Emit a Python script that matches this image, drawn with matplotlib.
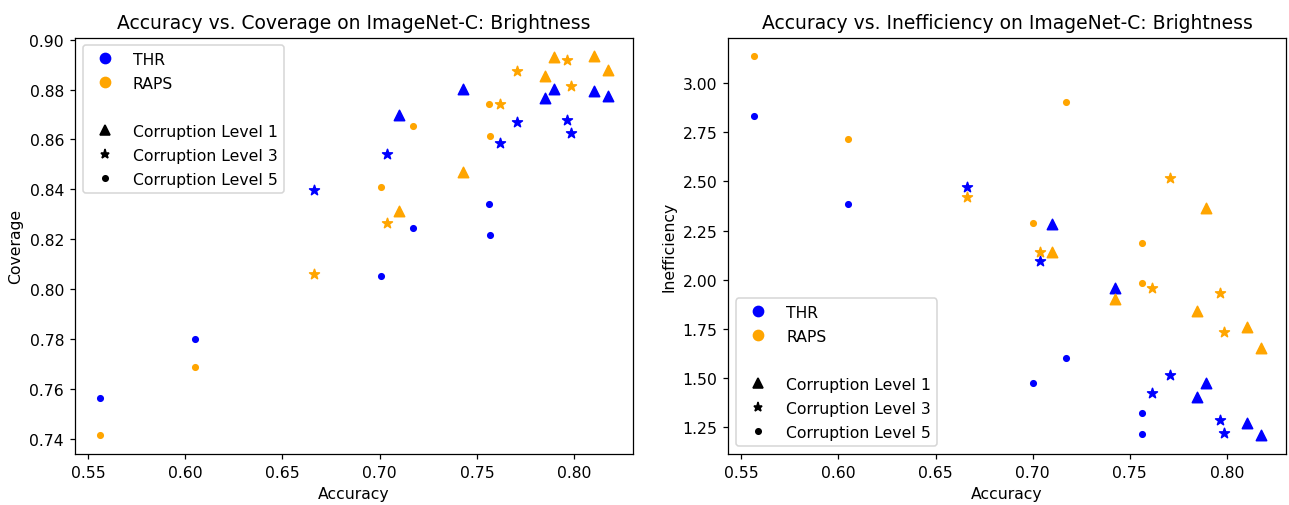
import matplotlib
matplotlib.use("Agg")
import matplotlib.pyplot as plt
from matplotlib.lines import Line2D

# Accuracy per corruption level (shared by THR and RAPS)
acc_l1 = [0.7101, 0.7426, 0.7847, 0.7894, 0.8103, 0.8173]
acc_l3 = [0.6662, 0.7036, 0.7616, 0.7704, 0.7963, 0.7983]
acc_l5 = [0.5564, 0.6051, 0.7004, 0.7172, 0.7560, 0.7565]

# Coverage
thr_cov_l1 = [0.8700, 0.8801, 0.8768, 0.8802, 0.8794, 0.8776]
raps_cov_l1 = [0.8315, 0.8469, 0.8856, 0.8929, 0.8933, 0.8879]
thr_cov_l3 = [0.8399, 0.8540, 0.8586, 0.8671, 0.8677, 0.8628]
raps_cov_l3 = [0.8061, 0.8264, 0.8741, 0.8873, 0.8917, 0.8815]
thr_cov_l5 = [0.7563, 0.7801, 0.8052, 0.8245, 0.8342, 0.8218]
raps_cov_l5 = [0.7415, 0.7687, 0.8409, 0.8653, 0.8741, 0.8615]

# Inefficiency
thr_ineff_l1 = [2.281, 1.956, 1.406, 1.475, 1.274, 1.211]
raps_ineff_l1 = [2.139, 1.902, 1.841, 2.366, 1.761, 1.651]
thr_ineff_l3 = [2.472, 2.098, 1.426, 1.516, 1.287, 1.220]
raps_ineff_l3 = [2.421, 2.142, 1.959, 2.519, 1.931, 1.736]
thr_ineff_l5 = [2.8325, 2.386, 1.475, 1.602, 1.321, 1.218]
raps_ineff_l5 = [3.135, 2.717, 2.289, 2.905, 2.186, 1.986]

methods = ["THR", "RAPS"]
colors = {"THR": "blue", "RAPS": "orange"}
levels = ["Corruption Level 1", "Corruption Level 3", "Corruption Level 5"]
markers = ["^", "*", "."]
xticks = [0.55, 0.60, 0.65, 0.70, 0.75, 0.80]

accs = [acc_l1, acc_l3, acc_l5]
cov = {"THR": [thr_cov_l1, thr_cov_l3, thr_cov_l5],
       "RAPS": [raps_cov_l1, raps_cov_l3, raps_cov_l5]}
ineff = {"THR": [thr_ineff_l1, thr_ineff_l3, thr_ineff_l5],
         "RAPS": [raps_ineff_l1, raps_ineff_l3, raps_ineff_l5]}

W, H = 1289, 506
DPI = 112.5
fig = plt.figure(figsize=(W / DPI, H / DPI), dpi=DPI)
top_px, bot_px = 38.5, 455
ax1 = fig.add_axes([75 / W, 1 - bot_px / H, (633.3 - 75) / W, (bot_px - top_px) / H])
ax2 = fig.add_axes([728.3 / W, 1 - bot_px / H, (1286 - 728.3) / W, (bot_px - top_px) / H])


def legend_handles():
    hs = [Line2D([], [], marker="o", color=colors[m], linestyle="none",
                 markersize=6.5, label=m) for m in methods]
    hs.append(Line2D([], [], linestyle="none", marker="", label=" "))
    for lv, mk in zip(levels, markers):
        ms = 6 if mk != "." else 7
        hs.append(Line2D([], [], marker=mk, color="black", linestyle="none",
                         markersize=ms, label=lv))
    return hs


for ax, data, ylabel, title, loc in [
    (ax1, cov, "Coverage", "Accuracy vs. Coverage on ImageNet-C: Brightness", "upper left"),
    (ax2, ineff, "Inefficiency", "Accuracy vs. Inefficiency on ImageNet-C: Brightness", "lower left"),
]:
    for m in methods:
        for i, mk in enumerate(markers):
            ax.scatter(accs[i], data[m][i], marker=mk, color=colors[m],
                       s=44 if mk != "." else 50, zorder=3)
    ax.set_xlabel("Accuracy")
    ax.set_ylabel(ylabel)
    ax.set_title(title)
    ax.set_xticks(xticks)
    ax.legend(handles=legend_handles(), loc=loc, labelspacing=0.58)

ax1.set_yticks([0.74, 0.76, 0.78, 0.80, 0.82, 0.84, 0.86, 0.88, 0.90])

fig.savefig("out.png", dpi=DPI)
